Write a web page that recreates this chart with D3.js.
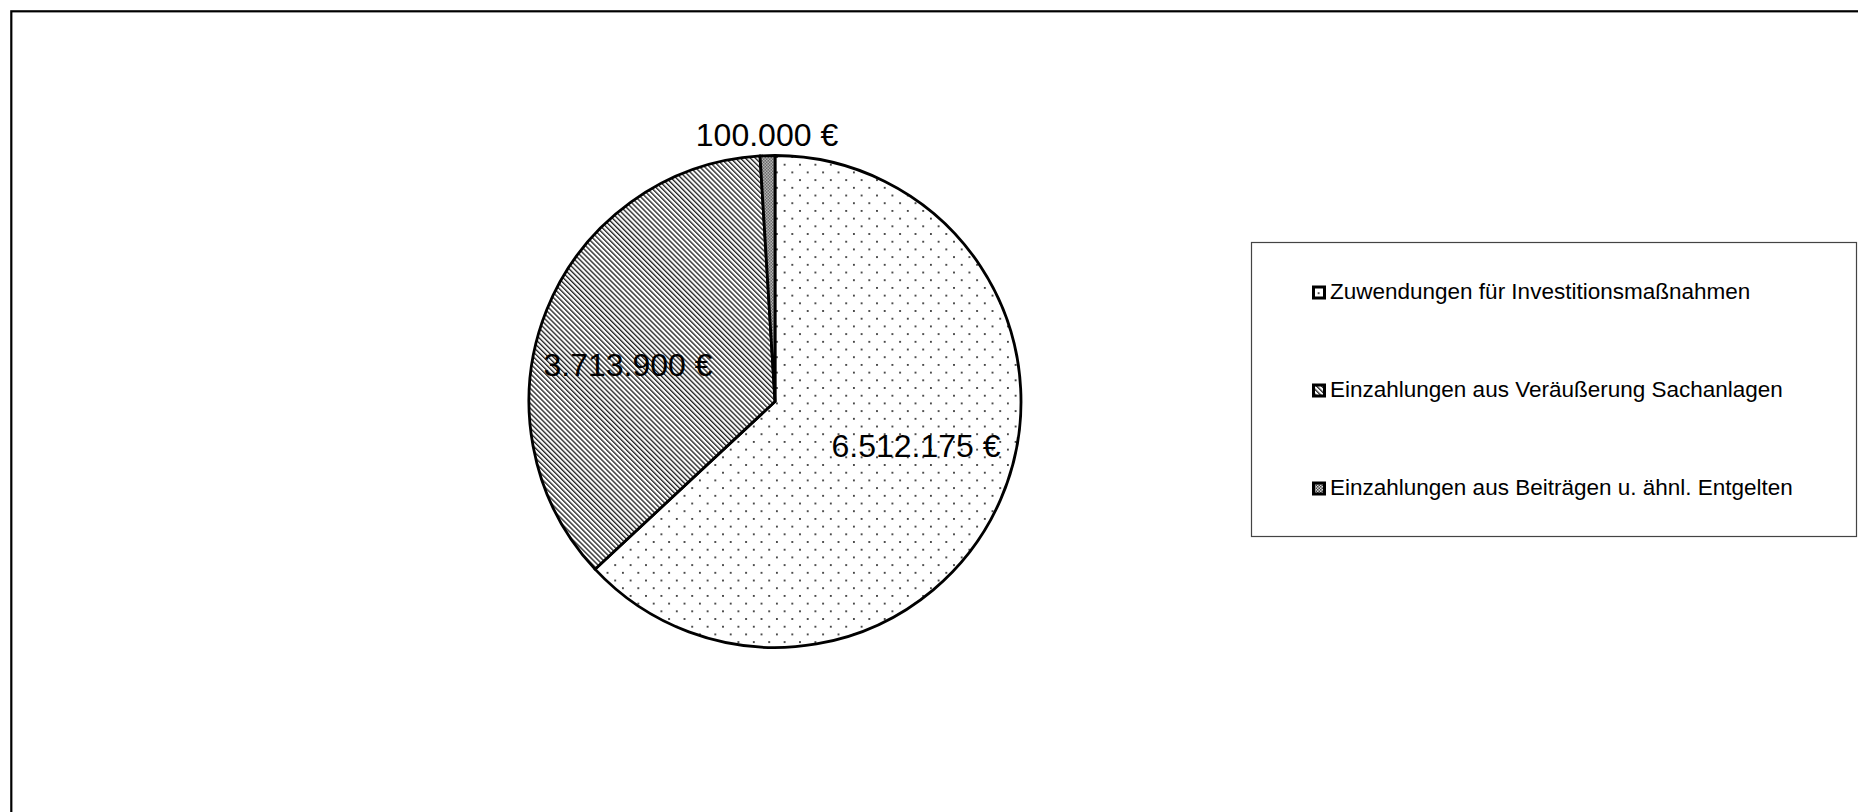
<!DOCTYPE html>
<html>
<head>
<meta charset="utf-8">
<script src="https://cdn.jsdelivr.net/npm/d3@7"></script>
<style>
  html, body { margin: 0; padding: 0; background: #fff; }
  svg { display: block; }
  text { font-family: "Liberation Sans", Arial, Helvetica, sans-serif; fill: #000; }
</style>
</head>
<body>
<svg id="chart" width="1858" height="812"></svg>
<script>
// Einzahlungen aus Investitionstätigkeit (in €)
const categories = [
  "Zuwendungen für Investitionsmaßnahmen",
  "Einzahlungen aus Veräußerung Sachanlagen",
  "Einzahlungen aus Beiträgen u. ähnl. Entgelten"
];
const values = [6512175, 3713900, 100000];
const patternIds = ["pat-dots", "pat-hatch", "pat-checker"];

const fmt = d3.formatLocale({ decimal: ",", thousands: ".", grouping: [3], currency: ["", " €"] }).format("$,.0f");

const svg = d3.select("#chart");
const defs = svg.append("defs");

// fine dotted fill
const dots = defs.append("pattern").attr("id", "pat-dots")
  .attr("patternUnits", "userSpaceOnUse").attr("width", 15.4).attr("height", 15.4);
dots.append("rect").attr("width", 15.4).attr("height", 15.4).attr("fill", "#fff");
dots.append("rect").attr("x", 1).attr("y", 1).attr("width", 1.8).attr("height", 1.8).attr("fill", "#333");
dots.append("rect").attr("x", 8.7).attr("y", 8.7).attr("width", 1.8).attr("height", 1.8).attr("fill", "#333");

// dense diagonal hatching
const hatch = defs.append("pattern").attr("id", "pat-hatch")
  .attr("patternUnits", "userSpaceOnUse").attr("width", 3.5).attr("height", 10)
  .attr("patternTransform", "rotate(-45)");
hatch.append("rect").attr("width", 3.5).attr("height", 10).attr("fill", "#fff");
hatch.append("rect").attr("width", 1.35).attr("height", 10).attr("fill", "#222");

// fine checker (grey)
const checker = defs.append("pattern").attr("id", "pat-checker")
  .attr("patternUnits", "userSpaceOnUse").attr("width", 3).attr("height", 3);
checker.append("rect").attr("width", 3).attr("height", 3).attr("fill", "#d8d8d8");
checker.append("rect").attr("width", 1.5).attr("height", 1.5).attr("fill", "#444");
checker.append("rect").attr("x", 1.5).attr("y", 1.5).attr("width", 1.5).attr("height", 1.5).attr("fill", "#444");

// chart area frame
svg.append("rect")
  .attr("x", 11.3).attr("y", 11.3).attr("width", 2000).attr("height", 1000)
  .attr("fill", "none").attr("stroke", "#000").attr("stroke-width", 2.2);

// pie
const cx = 775, cy = 401.5, radius = 246;
const pie = d3.pie().sort(null).value(d => d)(values);
const arc = d3.arc().innerRadius(0).outerRadius(radius);

const g = svg.append("g").attr("transform", `translate(${cx},${cy})`);
g.selectAll("path.slice").data(pie).join("path")
  .attr("class", "slice")
  .attr("d", arc)
  .attr("fill", (d, i) => `url(#${patternIds[i]})`)
  .attr("stroke", "#000")
  .attr("stroke-width", 2.8)
  .attr("stroke-linejoin", "round");

// value labels
const labelPos = [
  { x: 916, y: 457 },
  { x: 628, y: 376 },
  { x: 767, y: 146 }
];
svg.selectAll("text.val").data(pie).join("text")
  .attr("class", "val")
  .attr("x", (d, i) => labelPos[i].x)
  .attr("y", (d, i) => labelPos[i].y)
  .attr("text-anchor", "middle")
  .attr("font-size", 32)
  .text(d => fmt(d.data));

// legend
const legend = svg.append("g");
legend.append("rect")
  .attr("x", 1251.5).attr("y", 242.5).attr("width", 605).attr("height", 294)
  .attr("fill", "#fff").attr("stroke", "#444").attr("stroke-width", 1.2);

const item = legend.selectAll("g.item").data(categories).join("g")
  .attr("class", "item")
  .attr("transform", (d, i) => `translate(0,${299 + i * 98})`);
item.append("rect")
  .attr("x", 1313.5).attr("y", -12).attr("width", 11).attr("height", 11)
  .attr("fill", (d, i) => `url(#${patternIds[i]})`)
  .attr("stroke", "#000").attr("stroke-width", 3);
item.append("text")
  .attr("x", 1330).attr("y", 0)
  .attr("font-size", 22.5)
  .text(d => d);
</script>
</body>
</html>
